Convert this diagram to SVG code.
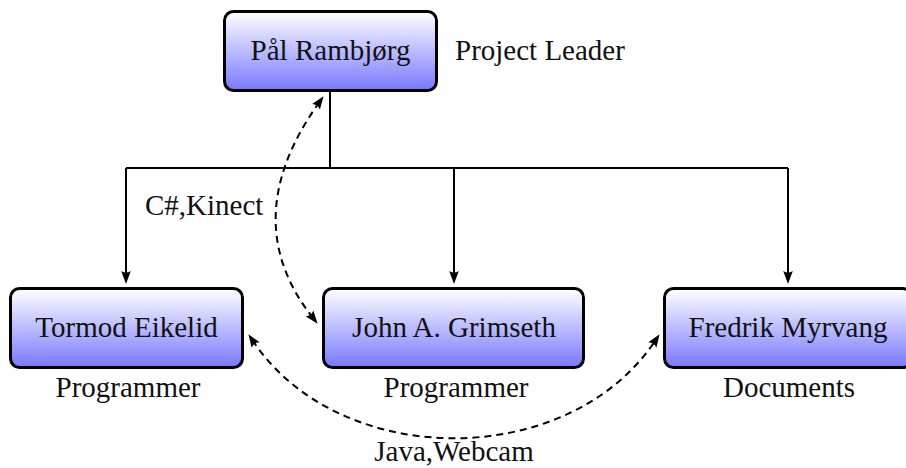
<svg xmlns="http://www.w3.org/2000/svg" width="906" height="468" viewBox="0 0 906 468">
  <style>
    .box { fill: url(#grad); stroke: #000; stroke-width: 3; }
    .t { font-size: 29px; fill: #111; }
    .c { text-anchor: middle; }
    .line { fill: none; stroke: #000; stroke-width: 2; }
    .dash { fill: none; stroke: #000; stroke-width: 2; stroke-dasharray: 7 5; }
  </style>
  <defs>
    <linearGradient id="grad" x1="0" y1="0" x2="0" y2="1">
      <stop offset="0" stop-color="#ffffff"/>
      <stop offset="1" stop-color="#7878ff"/>
    </linearGradient>
    <marker id="arr" markerUnits="userSpaceOnUse" markerWidth="20" markerHeight="20" refX="0" refY="0" orient="auto" overflow="visible">
      <path d="M7,0 L-6,-4.8 Q-3,0 -6,4.8 Z" fill="#000"/>
    </marker>
    <marker id="arrs" markerUnits="userSpaceOnUse" markerWidth="20" markerHeight="20" refX="0" refY="0" orient="auto-start-reverse" overflow="visible">
      <path d="M7,0 L-6,-4.8 Q-3,0 -6,4.8 Z" fill="#000"/>
    </marker>
  </defs>

  <g id="connectors">
    <path class="line" d="M330,91 V168 M126,168 H788"/>
    <path class="line" d="M126,168 V277" marker-end="url(#arr)"/>
    <path class="line" d="M454,168 V277" marker-end="url(#arr)"/>
    <path class="line" d="M788,168 V277" marker-end="url(#arr)"/>
    <path class="dash" d="M319.5,101.9 Q235,220 313.3,318.3" marker-start="url(#arrs)" marker-end="url(#arr)"/>
    <path class="dash" d="M252.3,340 C339,471 569,471 655.7,340" marker-start="url(#arrs)" marker-end="url(#arr)"/>
    <text class="t" font-family="Times New Roman" x="145" y="215">C#,Kinect</text>
    <text class="t c" font-family="Times New Roman" x="454" y="461">Java,Webcam</text>
  </g>

  <g id="node-pal">
    <rect class="box" x="224.5" y="11.5" width="212" height="79" rx="9"/>
    <text class="t c" font-family="Times New Roman" x="330.5" y="60">Pål Rambjørg</text>
    <text class="t" font-family="Times New Roman" x="455" y="60">Project Leader</text>
  </g>

  <g id="node-tormod">
    <rect class="box" x="10.5" y="288.5" width="232" height="79" rx="9"/>
    <text class="t c" font-family="Times New Roman" x="126.5" y="337">Tormod Eikelid</text>
    <text class="t c" font-family="Times New Roman" x="128" y="397">Programmer</text>
  </g>

  <g id="node-john">
    <rect class="box" x="323.5" y="288.5" width="260" height="79" rx="9"/>
    <text class="t c" font-family="Times New Roman" x="454" y="337">John A. Grimseth</text>
    <text class="t c" font-family="Times New Roman" x="456" y="397">Programmer</text>
  </g>

  <g id="node-fredrik">
    <rect class="box" x="664.5" y="288.5" width="247" height="79" rx="9"/>
    <text class="t c" font-family="Times New Roman" x="788" y="337">Fredrik Myrvang</text>
    <text class="t c" font-family="Times New Roman" x="789" y="397">Documents</text>
  </g>
</svg>
